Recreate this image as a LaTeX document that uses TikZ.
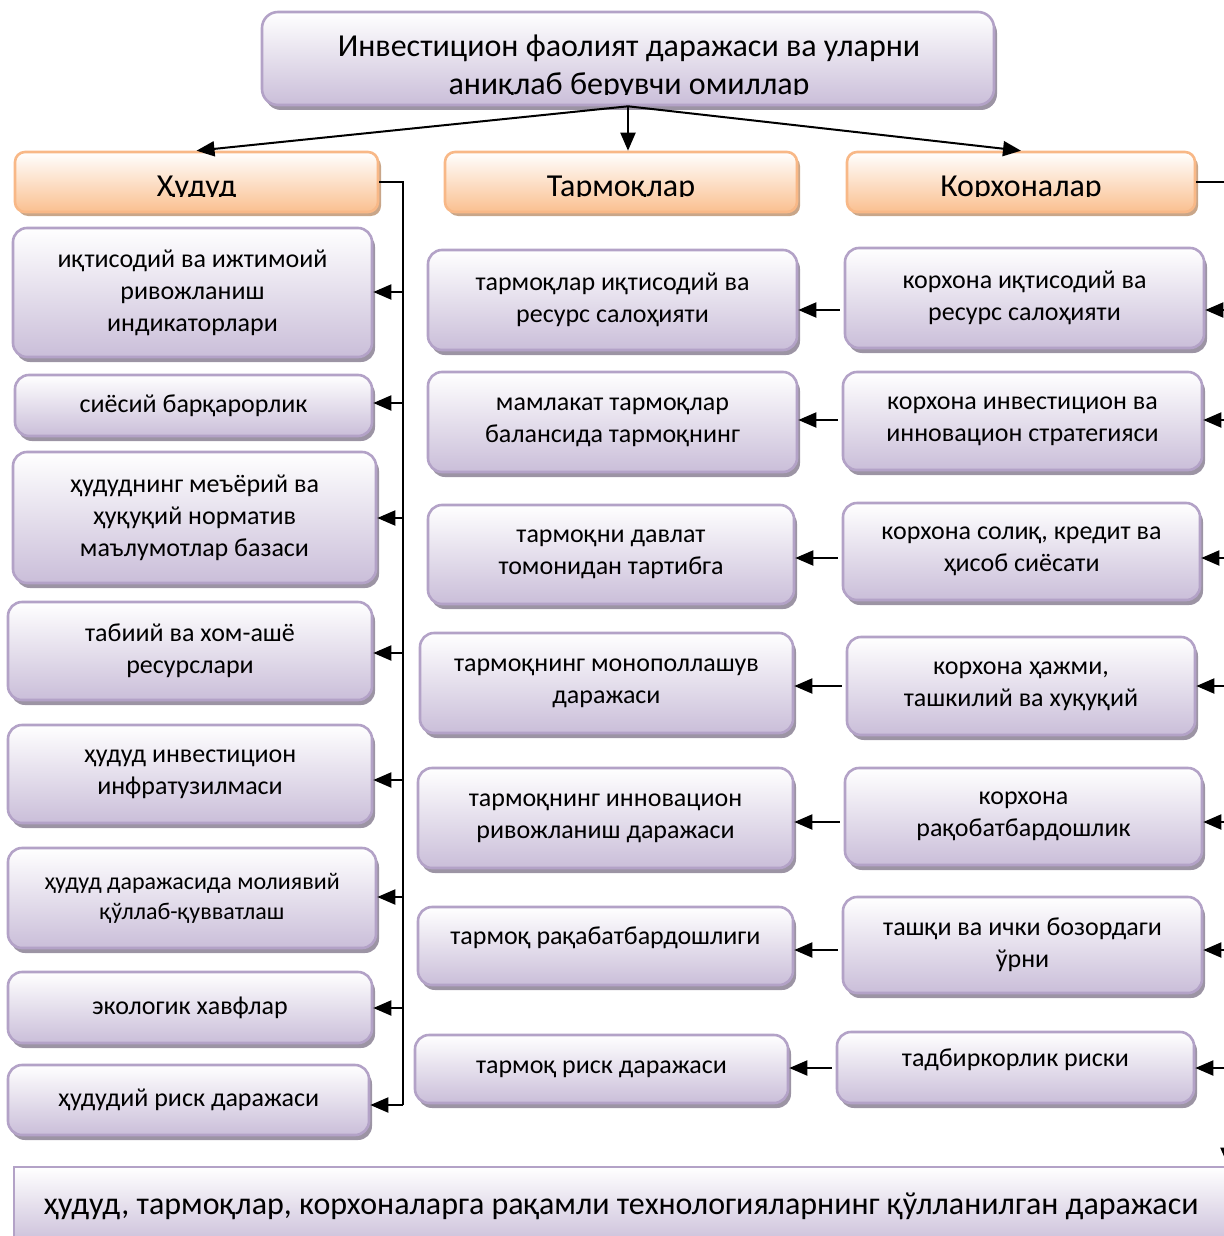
\documentclass[tikz,border=0pt]{standalone}
\usepackage{fontspec}
\setmainfont{Carlito}
\usetikzlibrary{arrows.meta,shadows}
\definecolor{lavfill}{HTML}{CABED9}
\definecolor{lavline}{HTML}{B3A2C7}
\definecolor{lavshadow}{HTML}{9C94A4}
\definecolor{orfill}{HTML}{FAC090}
\definecolor{orline}{HTML}{F8B887}
\definecolor{orshadow}{HTML}{C9A689}
\tikzset{
  pbox/.style={draw=lavline, line width=1.3pt, rounded corners=7pt,
    top color=white, bottom color=lavfill,
    drop shadow={shadow xshift=1.5pt, shadow yshift=-2.5pt, fill=lavshadow, opacity=1},
    align=center, inner sep=2pt, font=\fontsize{13}{16}\selectfont},
  smalltxt/.style={font=\fontsize{12}{15}\selectfont},
  hbox/.style={draw=orline, line width=1.3pt, rounded corners=5pt,
    top color=white, bottom color=orfill,
    drop shadow={shadow xshift=1.5pt, shadow yshift=-2pt, fill=orshadow, opacity=1},
    inner sep=0pt},
  tbox/.style={draw=lavline, line width=1.3pt, rounded corners=8pt,
    top color=white, bottom color=lavfill,
    drop shadow={shadow xshift=1.5pt, shadow yshift=-2.5pt, fill=lavshadow, opacity=1},
    inner sep=0pt},
  bbox/.style={draw=lavline, line width=1.3pt,
    top color=white, bottom color=lavfill, inner sep=0pt,
    font=\fontsize{16}{19}\selectfont},
  conn/.style={line width=1pt, draw=black},
  arr/.style={conn, -{Triangle[length=9pt,width=7.5pt]}},
  htxt/.style={anchor=base, inner sep=0pt, font=\fontsize{16}{19}\selectfont},
}
\newcommand{\mkbox}[7]{%
  \node[#2, minimum width={(#5-#3)*0.5pt}, minimum height={(#6-#4)*0.5pt}]
    (#1) at ({(#3+#5)/2},{(#4+#6)/2}) {#7};}
\begin{document}
\begin{tikzpicture}[x=0.5pt,y=-0.5pt]
\useasboundingbox (0,0) rectangle (1224,1236);

% title
\mkbox{title}{tbox}{262}{12}{994}{105}{}
\begin{scope}
  \clip (262,12) rectangle (997,95);
  \node[htxt] (titleA) at (629,57) {Инвестицион фаолият даражаси ва уларни};
  \node[htxt] (titleB) at (629,95) {аниқлаб берувчи омиллар};
\end{scope}

% headers
\mkbox{H1}{hbox}{15}{152}{378}{212}{}
\mkbox{H2}{hbox}{445}{152}{797}{212}{}
\mkbox{H3}{hbox}{847}{152}{1195}{212}{}
\begin{scope}
  \clip (0,150) rectangle (1224,196.5);
  \node[htxt] (H1t) at (197,196) {Ҳудуд};
  \node[htxt] (H2t) at (621,196) {Тармоқлар};
  \node[htxt] (H3t) at (1021,196) {Корхоналар};
\end{scope}

% left column
\mkbox{L1}{pbox}{13}{228}{372}{357}{иқтисодий ва ижтимоий\\ривожланиш\\индикаторлари}
\mkbox{L2}{pbox}{15}{375}{372}{436}{сиёсий барқарорлик}
\mkbox{L3}{pbox}{13}{452}{376}{583}{ҳудуднинг меъёрий ва\\ҳуқуқий норматив\\маълумотлар базаси}
\mkbox{L4}{pbox}{8}{602}{372}{700}{табиий ва хом-ашё\\ресурслари}
\mkbox{L5}{pbox}{8}{725}{372}{823}{ҳудуд инвестицион\\инфратузилмаси}
\mkbox{L6}{pbox,smalltxt}{8}{848}{376}{948}{ҳудуд даражасида молиявий\\қўллаб-қувватлаш}
\mkbox{L7}{pbox}{8}{972}{372}{1043}{экологик хавфлар}
\mkbox{L8}{pbox}{8}{1065}{369}{1135}{ҳудудий риск даражаси}

% middle column
\mkbox{M1}{pbox}{428}{250}{797}{350}{тармоқлар иқтисодий ва\\ресурс салоҳияти}
\mkbox{M2}{pbox}{428}{372}{797}{472}{мамлакат тармоқлар\\балансида тармоқнинг}
\mkbox{M3}{pbox}{428}{505}{794}{604}{тармоқни давлат\\томонидан тартибга}
\mkbox{M4}{pbox}{420}{633}{793}{733}{тармоқнинг монополлашув\\даражаси}
\mkbox{M5}{pbox}{418}{768}{793}{868}{тармоқнинг инновацион\\ривожланиш даражаси}
\mkbox{M6}{pbox}{418}{907}{793}{985}{тармоқ рақабатбардошлиги\\[-6pt]}
\mkbox{M7}{pbox}{415}{1035}{788}{1103}{тармоқ риск даражаси}

% right column
\mkbox{R1}{pbox}{845}{248}{1204}{348}{корхона иқтисодий ва\\ресурс салоҳияти}
\mkbox{R2}{pbox}{843}{372}{1202}{470}{корхона инвестицион ва\\инновацион стратегияси}
\mkbox{R3}{pbox}{843}{503}{1200}{600}{корхона солиқ, кредит ва\\ҳисоб сиёсати}
\mkbox{R4}{pbox}{847}{637}{1195}{735}{корхона ҳажми,\\ташкилий ва хуқуқий}
\mkbox{R5}{pbox}{845}{768}{1202}{865}{корхона\\рақобатбардошлик}
\mkbox{R6}{pbox}{843}{897}{1202}{993}{ташқи ва ички бозордаги\\ўрни}
\mkbox{R7}{pbox}{837}{1032}{1194}{1103}{тадбиркорлик риски\\[-6pt]}

% bottom
\mkbox{bottom}{bbox}{14}{1167}{1228}{1245}{ҳудуд, тармоқлар, корхоналарга рақамли технологияларнинг қўлланилган даражаси}

% title arrows
\draw[arr] (title.south) -- (H1.north);
\draw[arr] (title.south) -- (title.south |- H2.north);
\draw[arr] (title.south) -- (H3.north);

% left bus
\coordinate (bL0) at (403,182);
\coordinate (bL1) at (403,292);
\coordinate (bL2) at (403,403);
\coordinate (bL3) at (403,518);
\coordinate (bL4) at (403,653);
\coordinate (bL5) at (403,780);
\coordinate (bL6) at (403,897);
\coordinate (bL7) at (403,1008);
\coordinate (bL8) at (403,1105);
\draw[conn] (H1.east) -- (bL0) -- (bL8);
\foreach \i in {1,...,8} { \draw[arr] (bL\i) -- (bL\i -| L\i.east); }

% right bus
\coordinate (bR0) at (1228,182);
\coordinate (bR1) at (1228,310);
\coordinate (bR2) at (1228,420);
\coordinate (bR3) at (1228,558);
\coordinate (bR4) at (1228,686);
\coordinate (bR5) at (1228,822);
\coordinate (bR6) at (1228,950);
\coordinate (bR7) at (1228,1068);
\draw[arr] (H3.east) -- (bR0) -- (bR0 |- bottom.north);
\foreach \i in {1,...,7} {
  \draw[arr] (bR\i) -- (bR\i -| R\i.east);
  \draw[arr] ([xshift=-2pt]R\i.west |- bR\i) -- (bR\i -| M\i.east);
}
\end{tikzpicture}
\end{document}
